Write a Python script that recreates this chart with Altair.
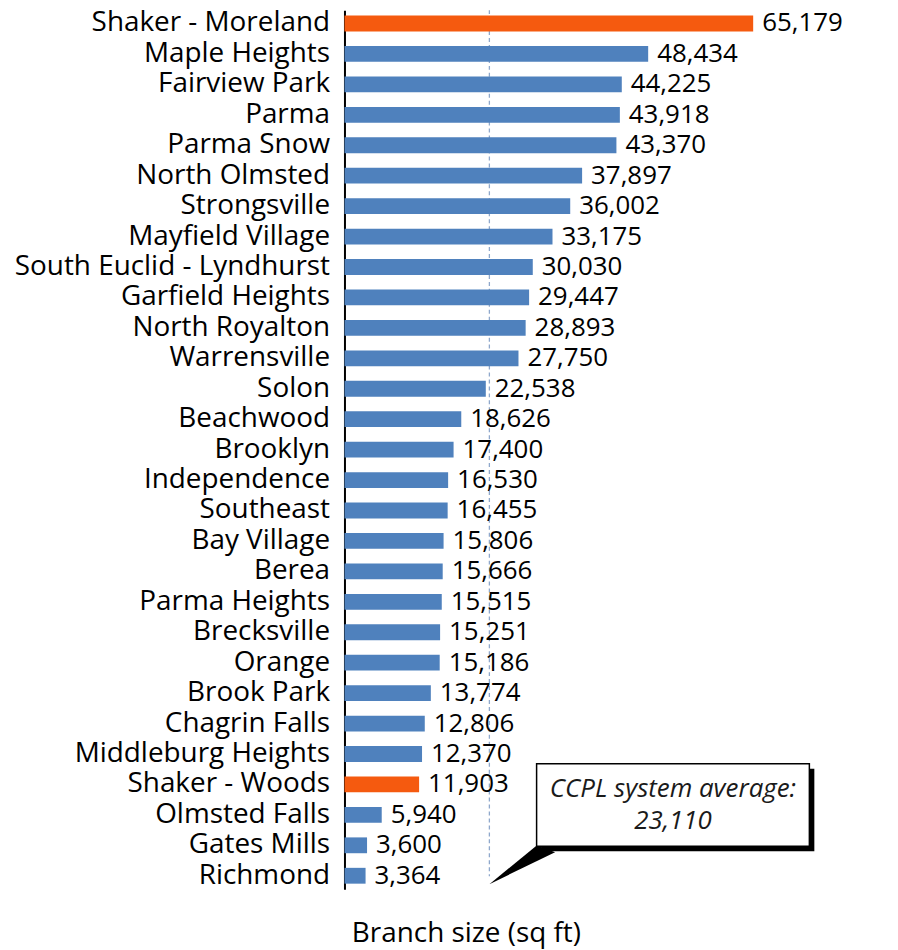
import altair as alt
import pandas as pd

CATEGORIES = ["Shaker - Moreland", "Maple Heights", "Fairview Park", "Parma", "Parma Snow",
              "North Olmsted", "Strongsville", "Mayfield Village", "South Euclid - Lyndhurst",
              "Garfield Heights", "North Royalton", "Warrensville", "Solon", "Beachwood",
              "Brooklyn", "Independence", "Southeast", "Bay Village", "Berea", "Parma Heights",
              "Brecksville", "Orange", "Brook Park", "Chagrin Falls", "Middleburg Heights",
              "Shaker - Woods", "Olmsted Falls", "Gates Mills", "Richmond"]
SIZES = [65179, 48434, 44225, 43918, 43370, 37897, 36002, 33175, 30030, 29447, 28893, 27750,
         22538, 18626, 17400, 16530, 16455, 15806, 15666, 15515, 15251, 15186, 13774, 12806,
         12370, 11903, 5940, 3600, 3364]
HIGHLIGHT = ["Shaker - Moreland", "Shaker - Woods"]
SYSTEM_AVERAGE = 23110
CALLOUT_TEXT = "CCPL system average:"
X_TITLE = "Branch size (sq ft)"

df = pd.DataFrame({"branch": CATEGORIES, "size": SIZES})
df["group"] = ["Shaker" if b in HIGHLIGHT else "Other" for b in CATEGORIES]
avg_df = pd.DataFrame({"size": [SYSTEM_AVERAGE],
                       "label": [f"{SYSTEM_AVERAGE:,}"]})

FONT = "Open Sans"
W, H = 548, 883
X_MAX = 87000

x_scale = alt.Scale(domain=[0, X_MAX], nice=False, zero=True)

bars = alt.Chart(df).mark_bar().encode(
    x=alt.X("size:Q", scale=x_scale,
            axis=alt.Axis(title=X_TITLE, labels=False, ticks=False, domain=False, grid=False,
                          titleFont=FONT, titleFontSize=28, titleFontWeight="normal",
                          titleColor="black", titleX=122, titleY=53, titleAlign="center",
                          titleBaseline="alphabetic")),
    y=alt.Y("branch:N", sort=CATEGORIES,
            scale=alt.Scale(paddingInner=0.48, paddingOuter=0.18),
            axis=alt.Axis(title=None, ticks=False, grid=False, labelFont=FONT,
                          labelFontSize=28, labelColor="black", labelPadding=15,
                          labelLimit=500, domainColor="black", domainWidth=2)),
    color=alt.Color("group:N", legend=None,
                    scale=alt.Scale(domain=["Other", "Shaker"],
                                    range=["#4F81BD", "#F55A0F"])),
)

values = alt.Chart(df).mark_text(align="left", baseline="middle", dx=9, font=FONT,
                                 fontSize=26, color="black").encode(
    x=alt.X("size:Q", scale=x_scale),
    y=alt.Y("branch:N", sort=CATEGORIES),
    text=alt.Text("size:Q", format=","),
)

avg_rule = alt.Chart(avg_df).mark_rule(color="#8FA8CC", strokeDash=[4, 3],
                                       strokeWidth=1.3).encode(
    x=alt.X("size:Q", scale=x_scale),
    y=alt.value(0), y2=alt.value(870),
)

TRI_PATH = "M0.45,-0.59 L1,-0.38 L-1,0.59 Z"
pointer = alt.Chart(avg_df).mark_point(shape=TRI_PATH, size=4356, filled=True,
                                       color="black", opacity=1, strokeWidth=0,
                                       xOffset=33).encode(
    x=alt.X("size:Q", scale=x_scale),
    y=alt.value(858.5),
)

shadow = alt.Chart(avg_df).mark_rect(color="black").encode(
    x=alt.value(198), x2=alt.value(472), y=alt.value(762), y2=alt.value(845))

box = alt.Chart(avg_df).mark_rect(fill="white", stroke="black", strokeWidth=1.5).encode(
    x=alt.value(193), x2=alt.value(467), y=alt.value(757), y2=alt.value(840))

callout1 = alt.Chart(avg_df).mark_text(text=CALLOUT_TEXT, font=FONT, fontSize=26,
                                       fontStyle="italic", color="#1a1a1a",
                                       align="center", baseline="middle").encode(
    x=alt.value(330), y=alt.value(782))

callout2 = alt.Chart(avg_df).mark_text(font=FONT, fontSize=26, fontStyle="italic",
                                       color="#1a1a1a", align="center",
                                       baseline="middle").encode(
    x=alt.value(330), y=alt.value(815), text="label:N")

chart = alt.layer(avg_rule, bars, values, shadow, pointer, box, callout1, callout2).properties(
    width=W, height=H,
    padding={"left": 338, "top": 0, "right": 0, "bottom": 60},
    autosize=alt.AutoSizeParams(type="none"),
    background="white",
).configure_view(stroke=None)

chart.save("out.html", embed_options={"renderer": "svg", "actions": False})
